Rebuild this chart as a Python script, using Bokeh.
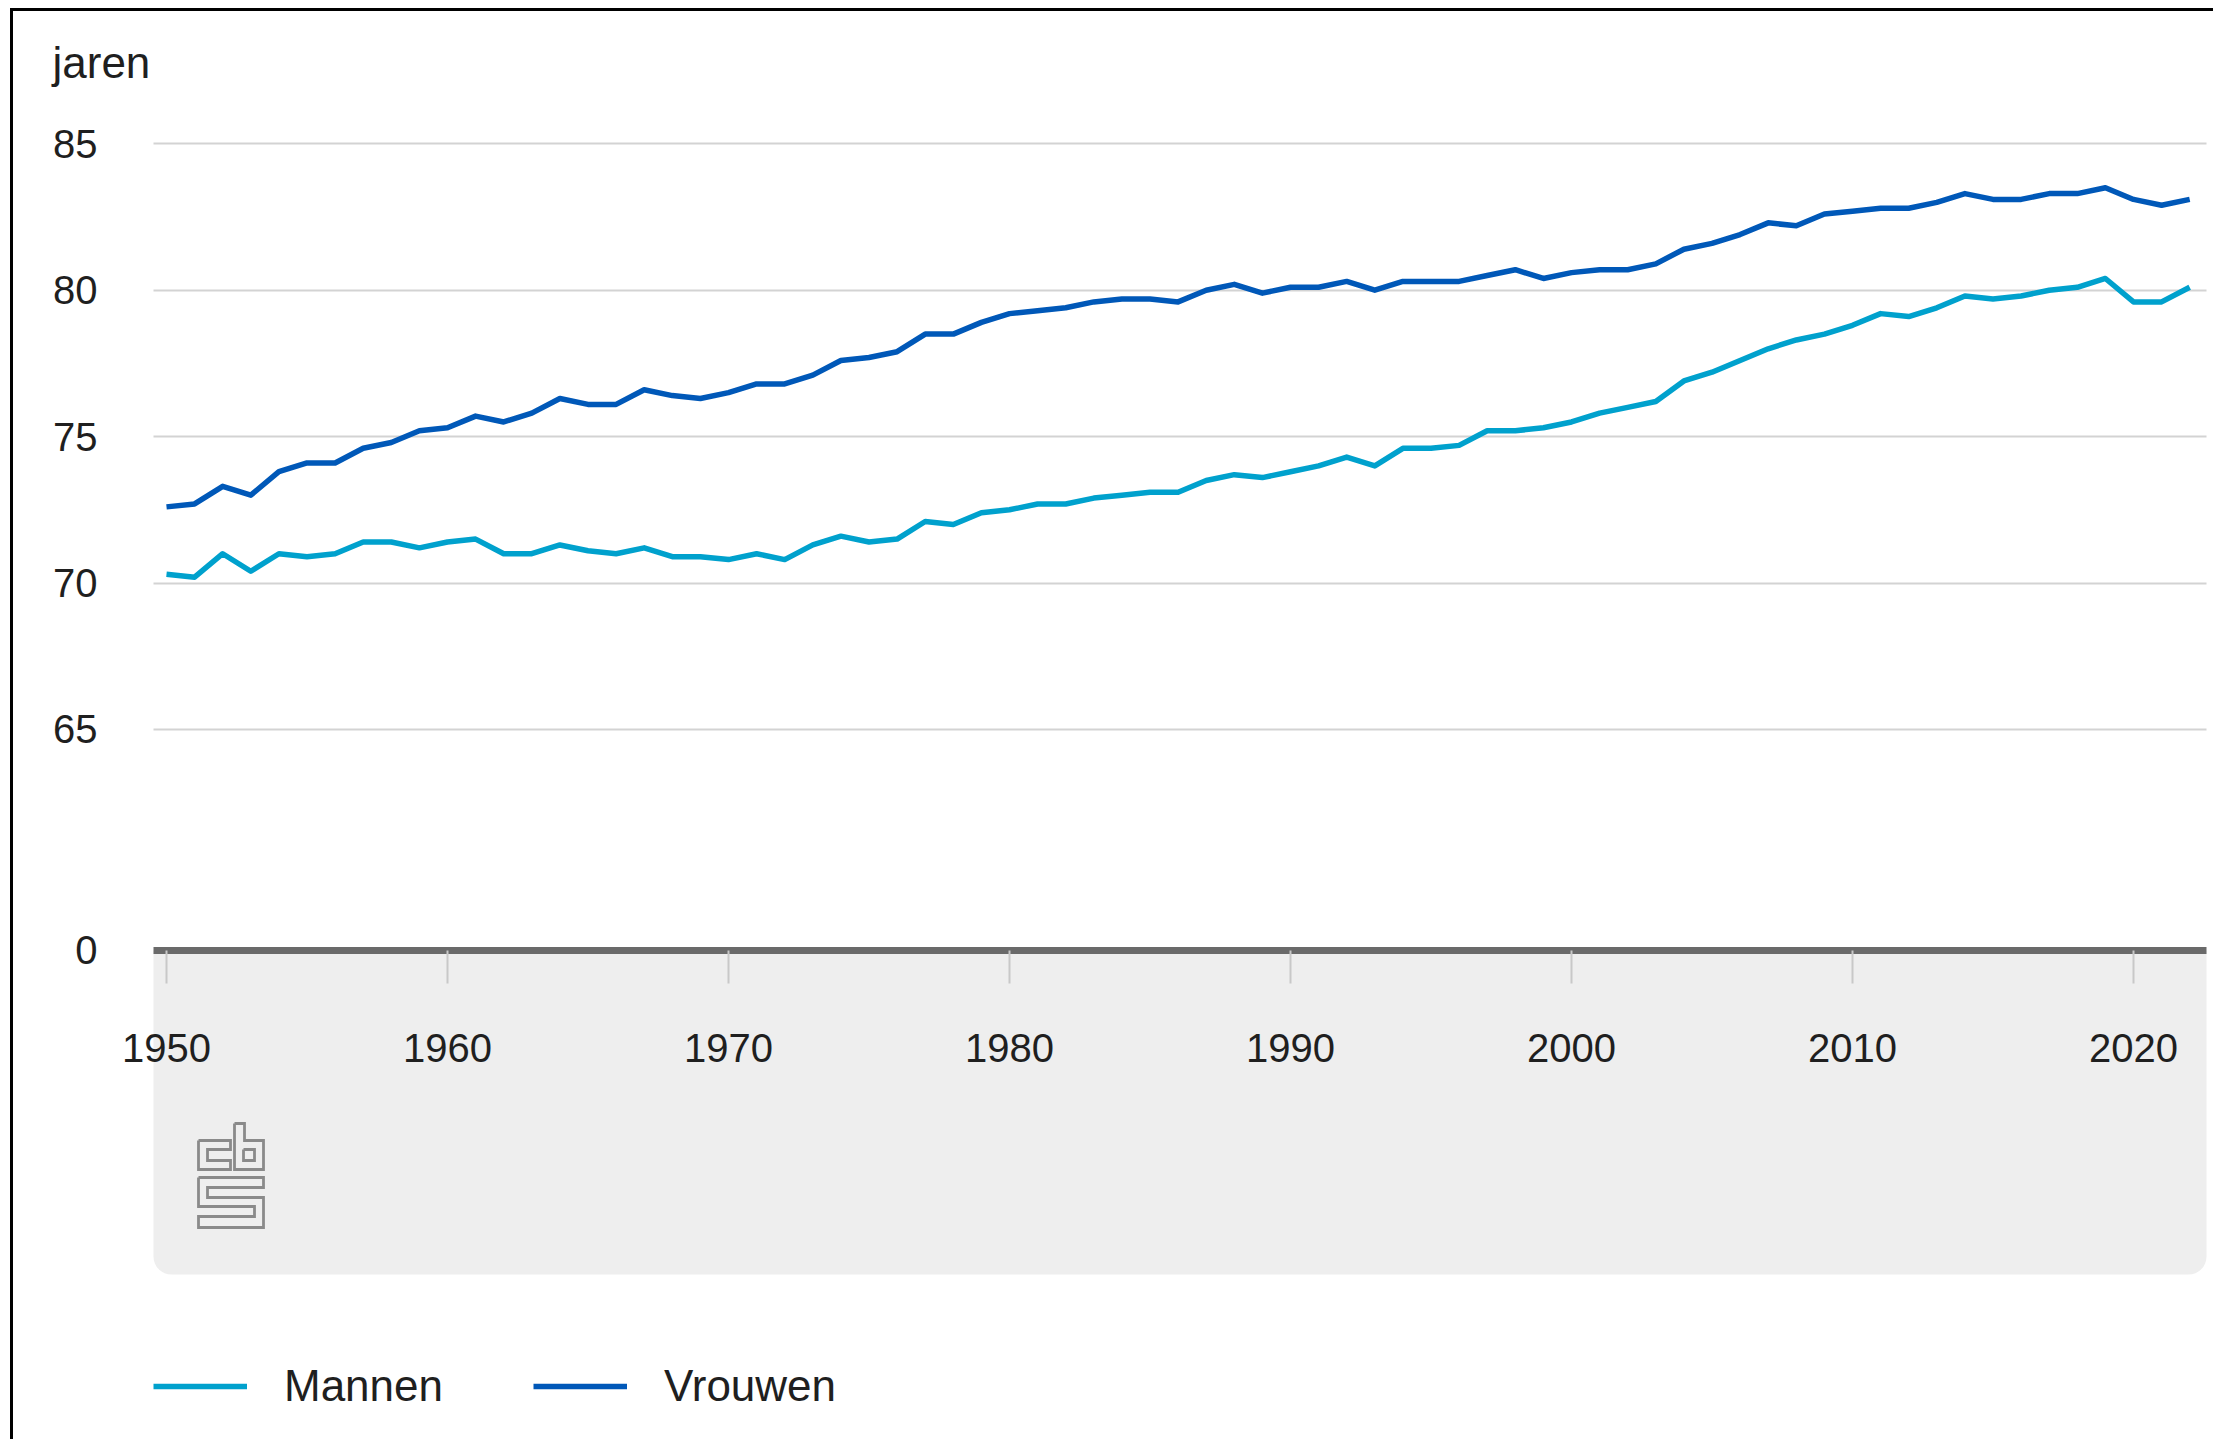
from bokeh.plotting import figure
from bokeh.models import (Range1d, FixedTicker, Label, BoxAnnotation, Legend,
                          LegendItem, ColumnDataSource)
from bokeh.embed import file_html
from bokeh.resources import INLINE

# ---------------- data ----------------
years = list(range(1950, 2023))
mannen = [
    70.3, 70.2, 71.0, 70.4, 71.0, 70.9, 71.0, 71.4, 71.4, 71.2,   # 1950-1959
    71.4, 71.5, 71.0, 71.0, 71.3, 71.1, 71.0, 71.2, 70.9, 70.9,   # 1960-1969
    70.8, 71.0, 70.8, 71.3, 71.6, 71.4, 71.5, 72.1, 72.0, 72.4,   # 1970-1979
    72.5, 72.7, 72.7, 72.9, 73.0, 73.1, 73.1, 73.5, 73.7, 73.6,   # 1980-1989
    73.8, 74.0, 74.3, 74.0, 74.6, 74.6, 74.7, 75.2, 75.2, 75.3,   # 1990-1999
    75.5, 75.8, 76.0, 76.2, 76.9, 77.2, 77.6, 78.0, 78.3, 78.5,   # 2000-2009
    78.8, 79.2, 79.1, 79.4, 79.8, 79.7, 79.8, 80.0, 80.1, 80.4,   # 2010-2019
    79.6, 79.6, 80.1,                                             # 2020-2022
]
vrouwen = [
    72.6, 72.7, 73.3, 73.0, 73.8, 74.1, 74.1, 74.6, 74.8, 75.2,   # 1950-1959
    75.3, 75.7, 75.5, 75.8, 76.3, 76.1, 76.1, 76.6, 76.4, 76.3,   # 1960-1969
    76.5, 76.8, 76.8, 77.1, 77.6, 77.7, 77.9, 78.5, 78.5, 78.9,   # 1970-1979
    79.2, 79.3, 79.4, 79.6, 79.7, 79.7, 79.6, 80.0, 80.2, 79.9,   # 1980-1989
    80.1, 80.1, 80.3, 80.0, 80.3, 80.3, 80.3, 80.5, 80.7, 80.4,   # 1990-1999
    80.6, 80.7, 80.7, 80.9, 81.4, 81.6, 81.9, 82.3, 82.2, 82.6,   # 2000-2009
    82.7, 82.8, 82.8, 83.0, 83.3, 83.1, 83.1, 83.3, 83.3, 83.5,   # 2010-2019
    83.1, 82.9, 83.1,                                             # 2020-2022
]
series_names = ["Mannen", "Vrouwen"]
series_colors = ["#00a1cd", "#0058b8"]
y_ticks = [65, 70, 75, 80, 85]
zero_label = "0"
x_ticks = [1950, 1960, 1970, 1980, 1990, 2000, 2010, 2020]
unit_label = "jaren"

# ---------------- layout constants (page pixels) ----------------
W, H = 2213, 1439
PAGE = 0
PX_YEAR = 28.1          # pixels per year
PX_UNIT = 29.28         # pixels per year of life expectancy
YEAR1950_PX = 166.0
Y85_PX = 143.3
ZERO_POS = 57.45        # where the broken axis draws "0"

X0 = 1950 - (YEAR1950_PX - PAGE) / PX_YEAR
X1 = X0 + W / PX_YEAR
Y1 = 85 + (Y85_PX - PAGE) / PX_UNIT
Y0 = Y1 - H / PX_UNIT


def dx(px):
    return X0 + (px - PAGE) / PX_YEAR


def dy(py):
    return Y1 - (py - PAGE) / PX_UNIT


BAND_L, BAND_R, BAND_B = dx(153), dx(2206), dy(1274)
FONT = "Liberation Sans"
TXT = "#1f1f1f"

p = figure(width=W, height=H, x_range=Range1d(X0, X1), y_range=Range1d(Y0, Y1),
           output_backend="svg", toolbar_location=None, title=None,
           min_border=0, min_border_left=0, min_border_right=0,
           min_border_top=0, min_border_bottom=0,
           background_fill_color="white", border_fill_color="white",
           outline_line_color=None)

# grey band under the axis
band_kw = dict(left=BAND_L, right=BAND_R, top=ZERO_POS, bottom=BAND_B,
               fill_color="#eeeeee", fill_alpha=1.0, line_color=None, level="underlay")
if "border_radius" in BoxAnnotation.properties():
    band_kw["border_radius"] = (0, 0, 18, 18)
p.add_layout(BoxAnnotation(**band_kw))

# grid
g = p.ygrid[0]
g.ticker = FixedTicker(ticks=y_ticks)
g.grid_line_color = "#d3d3d3"
g.grid_line_width = 2
if "cross_bounds" in g.properties():
    g.cross_bounds = (BAND_L, BAND_R)
else:
    g.grid_line_color = None
    p.segment(x0=[BAND_L] * len(y_ticks), x1=[BAND_R] * len(y_ticks), y0=y_ticks, y1=y_ticks,
              line_color="#d3d3d3", line_width=2, level="underlay")
p.xgrid.grid_line_color = None

# x axis (drawn at the broken zero line)
xa = p.xaxis[0]
xa.fixed_location = ZERO_POS
xa.ticker = FixedTicker(ticks=x_ticks)
xa.bounds = (BAND_L, BAND_R)
xa.axis_line_color = "#6a6a6a"
xa.axis_line_width = 7
xa.axis_line_cap = "butt"
xa.major_tick_out = 33
xa.major_tick_in = 0
xa.major_tick_line_color = "#c8c8c8"
xa.major_tick_line_width = 2
xa.minor_tick_line_color = None
xa.major_label_text_font = FONT
xa.major_label_text_font_size = "40px"
xa.major_label_text_color = TXT
xa.major_label_standoff = 51

# y axis
ya = p.yaxis[0]
ya.fixed_location = BAND_L
ya.ticker = FixedTicker(ticks=[ZERO_POS] + y_ticks)
ya.major_label_overrides = {ZERO_POS: zero_label}
ya.axis_line_color = None
ya.major_tick_line_color = None
ya.major_tick_out = 0
ya.major_tick_in = 0
ya.minor_tick_line_color = None
ya.major_label_text_font = FONT
ya.major_label_text_font_size = "40px"
ya.major_label_text_color = TXT
ya.major_label_standoff = 56

# data lines
src = ColumnDataSource(dict(year=years, mannen=mannen, vrouwen=vrouwen))
r_m = p.line("year", "mannen", source=src, line_color=series_colors[0], line_width=5.5,
             line_join="round")
r_v = p.line("year", "vrouwen", source=src, line_color=series_colors[1], line_width=5.5,
             line_join="round")

# CBS logo (outline shapes, local pixel grid 65 x 104)
LOGO_X, LOGO_Y = 198, 1123
logo_shapes = [
    [(0, 17), (32, 17), (32, 26), (9, 26), (9, 37), (32, 37), (32, 46), (0, 46), (0, 17)],
    [(36, 0), (46, 0), (46, 17), (65, 17), (65, 46), (36, 46), (36, 0)],
    [(45, 26), (56, 26), (56, 37), (45, 37), (45, 26)],
    [(0, 54), (65, 54), (65, 64), (9, 64), (9, 74), (65, 74), (65, 104), (0, 104),
     (0, 93), (56, 93), (56, 83), (0, 83), (0, 54)],
]
p.multi_line(xs=[[dx(LOGO_X + a) for a, b in s] for s in logo_shapes],
             ys=[[dy(LOGO_Y + b) for a, b in s] for s in logo_shapes],
             line_color="#8a8a8a", line_width=2.8, line_join="miter")

# unit label
p.add_layout(Label(x=dx(52), y=dy(62), text=unit_label, text_font=FONT,
                   text_font_size="44px", text_color=TXT,
                   text_align="left", text_baseline="alphabetic"))

# frame border (left and top only)
p.add_layout(BoxAnnotation(left=dx(9.5), right=X1, top=dy(7.5), bottom=dy(10.5),
                           fill_color="black", fill_alpha=1.0, line_color=None,
                           level="overlay"))
p.add_layout(BoxAnnotation(left=dx(9.5), right=dx(12.5), top=dy(7.5), bottom=Y0,
                           fill_color="black", fill_alpha=1.0, line_color=None,
                           level="overlay"))

legend = Legend(items=[LegendItem(label=series_names[0], renderers=[r_m]),
                       LegendItem(label=series_names[1], renderers=[r_v])],
                orientation="horizontal", location=(153, 28),
                glyph_width=94, glyph_height=44, label_standoff=37, spacing=90,
                label_text_font=FONT, label_text_font_size="44px", label_text_color=TXT,
                background_fill_alpha=0, border_line_color=None, padding=0, margin=0)
p.add_layout(legend)

open("out.html", "w").write(file_html(p, INLINE))
